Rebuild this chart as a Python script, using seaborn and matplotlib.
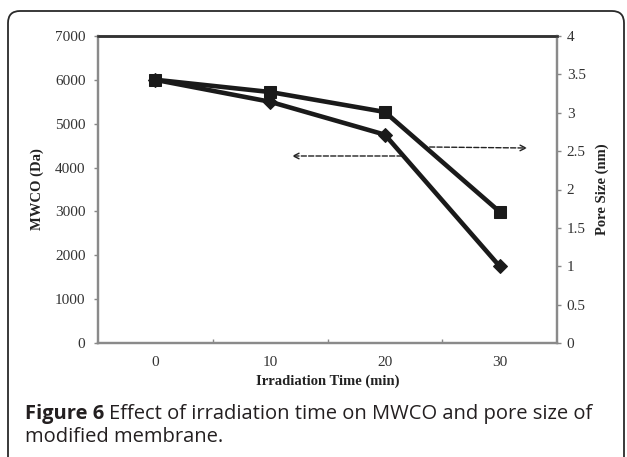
import matplotlib
matplotlib.use('Agg')
import matplotlib.pyplot as plt
import pandas as pd
import seaborn as sns
from matplotlib.patches import FancyBboxPatch

# Data
times = [0, 10, 20, 30]
mwco = [6000, 5500, 4750, 1750]          # Da, left axis (diamonds)
pore_size = [3.43, 3.27, 3.01, 1.71]     # nm, right axis (squares)
left_ticks = [0, 1000, 2000, 3000, 4000, 5000, 6000, 7000]
right_ticks = [0, 0.5, 1, 1.5, 2, 2.5, 3, 3.5, 4]
right_tick_labels = ['0', '0.5', '1', '1.5', '2', '2.5', '3', '3.5', '4']

df = pd.DataFrame({'pos': range(len(times)), 'time': times,
                   'mwco': mwco, 'pore': pore_size})

sns.set_style('white')
plt.rcParams['font.family'] = ['Liberation Serif', 'DejaVu Serif']

fig = plt.figure(figsize=(6.27, 4.57), dpi=100)
ax = fig.add_axes([98 / 627, 1 - 343 / 457, (557 - 98) / 627, (343 - 36) / 457])
ax2 = ax.twinx()

# Lines
sns.lineplot(data=df, x='pos', y='mwco', ax=ax, color='#1a1a1a', linewidth=3.3,
             marker='D', markersize=7, markeredgecolor='#1a1a1a')
sns.lineplot(data=df, x='pos', y='pore', ax=ax2, color='#1a1a1a', linewidth=3.3,
             marker='s', markersize=8, markeredgecolor='#1a1a1a')

# Axes limits / ticks
ax.set_xlim(-0.5, len(times) - 0.5)
ax.set_ylim(0, 7000)
ax2.set_ylim(0, 4)
ax.set_xticks(range(len(times)))
ax.set_xticklabels([str(t) for t in times])
ax.set_xticks([i + 0.5 for i in range(len(times) - 1)], minor=True)
ax.set_yticks(left_ticks)
ax.set_yticklabels([str(t) for t in left_ticks])
ax2.set_yticks(right_ticks)
ax2.set_yticklabels(right_tick_labels)

tick_color = '#333333'
ax.tick_params(axis='y', which='major', direction='out', length=3, width=1,
               color='#888888', labelsize=11, labelcolor=tick_color, pad=6)
ax2.tick_params(axis='y', which='major', direction='out', length=3, width=1,
                color='#888888', labelsize=11, labelcolor=tick_color, pad=4)
ax.tick_params(axis='x', which='major', length=0, labelsize=11,
               labelcolor=tick_color, pad=9)
ax.tick_params(axis='x', which='minor', direction='in', length=3, width=1,
               color='#888888', bottom=True)

for a in (ax, ax2):
    for side in ['left', 'right', 'bottom']:
        a.spines[side].set_color('#8a8a8a')
        a.spines[side].set_linewidth(1.6)
    a.spines['top'].set_color('#333333')
    a.spines['top'].set_linewidth(1.8)
ax.grid(False)
ax2.grid(False)

ax.set_xlabel('Irradiation Time (min)', fontsize=10.5, fontweight='bold',
              color='#222222', labelpad=4)
ax.set_ylabel('MWCO (Da)', fontsize=10.5, fontweight='bold', color='#222222',
              labelpad=8)
ax2.set_ylabel('Pore Size (nm)', fontsize=10.5, fontweight='bold', color='#222222',
               labelpad=7)

# Dashed arrows pointing to the respective axes
ax.annotate('', xy=(1.19, 4264), xytext=(2.15, 4264),
            arrowprops=dict(arrowstyle='->', linestyle='--', color='#222222',
                            lw=1.0, shrinkA=0, shrinkB=0))
ax.annotate('', xy=(3.24, 4446), xytext=(2.39, 4469),
            arrowprops=dict(arrowstyle='->', linestyle='--', color='#222222',
                            lw=1.0, shrinkA=0, shrinkB=0))

# Outer rounded frame
frame = FancyBboxPatch((8 / 100, -0.3), (624 - 8) / 100, (446 / 100) + 0.3,
                       boxstyle='round,pad=0,rounding_size=0.12',
                       transform=fig.dpi_scale_trans, facecolor='none',
                       edgecolor='#2a2a2a', linewidth=1.3, clip_on=False)
fig.patches.append(frame)

# Caption
cap_font = ['Open Sans', 'DejaVu Sans']
cap_size = 14.5
t1 = fig.text(25 / 627, 1 - 419 / 457, 'Figure 6', fontsize=cap_size,
              fontweight='bold', family=cap_font, color='#231f20', va='baseline')
fig.canvas.draw()
bb = t1.get_window_extent()
fig.text((bb.x1 + 5) / 627, 1 - 419 / 457,
         'Effect of irradiation time on MWCO and pore size of',
         fontsize=cap_size, family=cap_font, color='#231f20', va='baseline')
fig.text(25 / 627, 1 - 442 / 457, 'modified membrane.', fontsize=cap_size,
         family=cap_font, color='#231f20', va='baseline')

fig.savefig('out.png', dpi=100)
